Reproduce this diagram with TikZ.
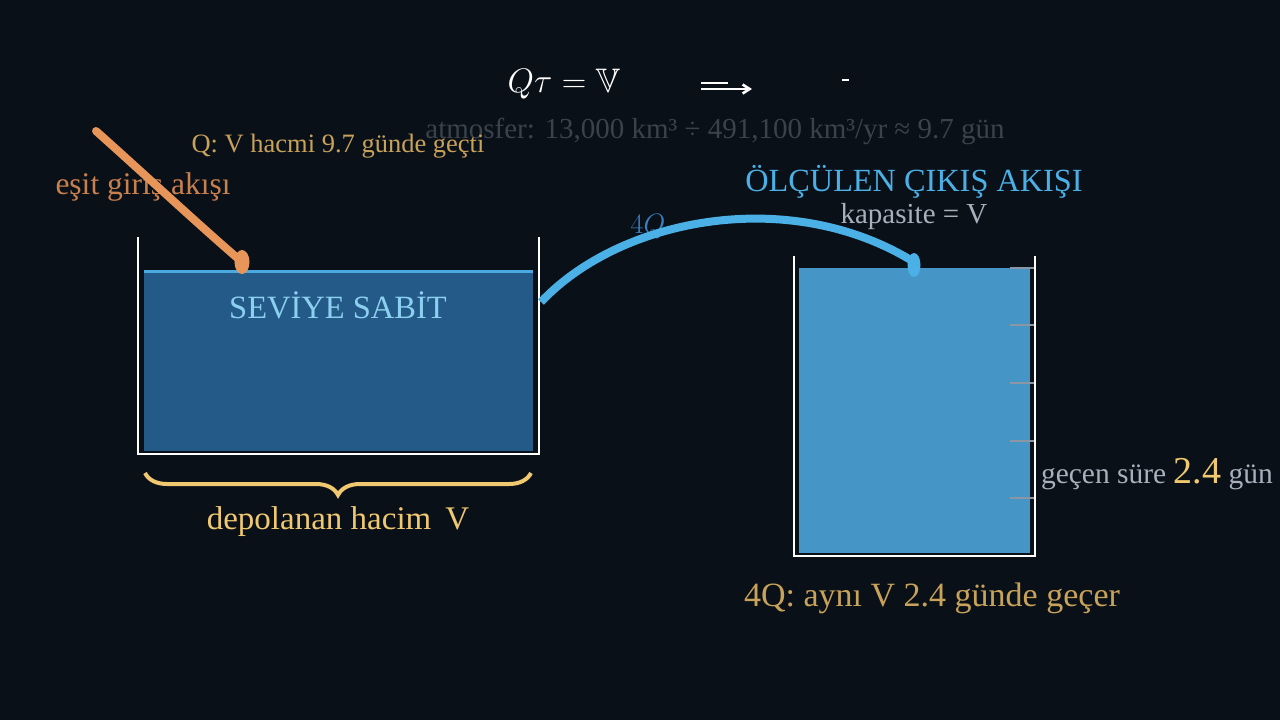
\RequirePackage{fix-cm}
\documentclass[tikz,border=0pt]{standalone}
\usepackage{amssymb}
\usepackage{fontspec}
\setmainfont{Liberation Serif}
\usetikzlibrary{arrows.meta,decorations.pathreplacing}
\definecolor{bg}{HTML}{0A1018}
\definecolor{lwater}{HTML}{245A88}
\definecolor{rwater}{HTML}{4596C6}
\definecolor{surf}{HTML}{4AAAE0}
\definecolor{flowblue}{HTML}{4AB0E6}
\definecolor{orng}{HTML}{E8955A}
\definecolor{gold}{HTML}{C9A25A}
\definecolor{brgold}{HTML}{F0C870}
\definecolor{orngtxt}{HTML}{C8804E}
\definecolor{dimgray}{HTML}{3A424C}
\definecolor{ltgray}{HTML}{A8B0BC}
\definecolor{tickgray}{HTML}{8A96A4}
\definecolor{ltblue}{HTML}{8CD0F0}
\definecolor{midblue}{HTML}{3A80C0}
\newcommand\myfs[1]{\fontsize{#1}{#1}\selectfont}
\begin{document}
\begin{tikzpicture}[x=1pt,y=-1pt,
  txt/.style={inner sep=0pt, outer sep=0pt},
  wall/.style={draw=white, line width=2.5pt},
  tickline/.style={draw=tickgray, line width=1.5pt},
  flowline/.style={line width=8pt, line cap=round}]
\useasboundingbox (0,0) rectangle (1280,720);
\fill[bg] (0,0) rectangle (1280,720);

% top formula
\node[txt, white] (formula) at (564,84) {\myfs{34}\(Q\tau = \mathbb{V}\)};
\draw[white, line width=2.6pt] (701,83) -- (728,83);
\draw[white, line width=2.6pt, -{Straight Barb[length=7pt,width=9pt]}] (701,89) -- (752,89);
\draw[white, line width=2pt] (842,80) -- (849,80);

\node[txt, dimgray] (atmo) at (715,131) {\myfs{29}atmosfer: 13,000 km³ ÷ 491,100 km³/yr ≈ 9.7 gün};
\node[txt, gold] (qtext) at (338,146) {\myfs{26.5}Q: V hacmi 9.7 günde geçti};
\node[txt, orngtxt] (esit) at (143,187) {\myfs{31.5}eşit giriş akışı};

% left tank
\fill[lwater] (144,271) rectangle (533,451);
\draw[surf, line width=3pt] (144,271) -- (533,271);
\draw[wall] (138,237) -- (138,454) -- (539,454) -- (539,237);
\node[txt, ltblue] (seviye) at (338,305) {\myfs{32.5}SEVİYE SABİT};

% brace
\draw[brgold, line width=4pt, decorate, decoration={brace, amplitude=22pt}] (531,473) -- (145,473);
\node[txt, brgold] (depo) at (338,522) {\myfs{33}depolanan hacim\hspace{14pt}V};

% right tank
\fill[rwater] (799,268) rectangle (1030,553);
\draw[wall] (794,256) -- (794,556) -- (1035,556) -- (1035,256);
\foreach \yy in {268,325,383,441,498} \draw[tickline] (1010,\yy) -- (1034,\yy);

\node[txt, flowblue] (olcu) at (914,182) {\myfs{32.3}ÖLÇÜLEN ÇIKIŞ AKIŞI};
\node[txt, ltgray] (kap) at (914,217) {\myfs{29}kapasite = V};
\node[txt, midblue] (fourq) at (648,227) {\myfs{28}\(4Q\)};
\node[txt, ltgray, anchor=base west] (gecen) at (1041,483) {\myfs{29.5}geçen süre \textcolor{brgold}{\myfs{38}2.4} gün};
\node[txt, gold] (ayni) at (932,598) {\myfs{34}4Q: aynı V 2.4 günde geçer};

% inflow
\coordinate (inS) at (96,131);
\coordinate (inE) at (242,262);
\draw[orng, flowline] (inS) .. controls (142,172) and (200,226) .. (inE);
\fill[orng] (inE) ellipse[x radius=7.5pt, y radius=12pt];

% outflow
\coordinate (outS) at (541,302);
\coordinate (outE) at (914,262);
\draw[flowblue, line width=8pt] (outS) .. controls (620,218) and (790,185) .. (outE);
\fill[flowblue] (914,265) ellipse[x radius=6.5pt, y radius=12pt];
\end{tikzpicture}
\end{document}
